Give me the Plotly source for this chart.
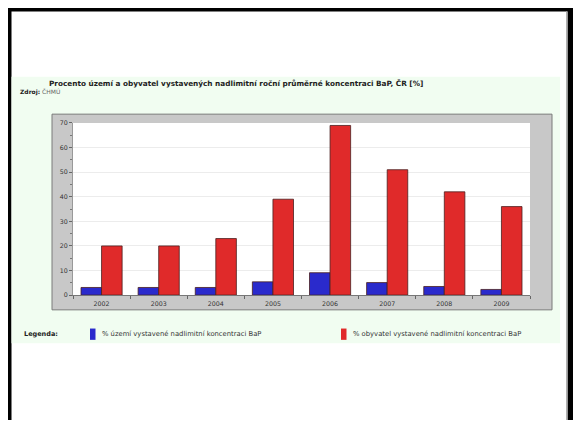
import plotly.graph_objects as go

W, H = 573, 423

years = ["2002", "2003", "2004", "2005", "2006", "2007", "2008", "2009"]
uzemi = [3.1, 3.1, 3.1, 5.4, 9.1, 5.1, 3.5, 2.3]
obyvatel = [20, 20, 23, 39, 69, 51, 42, 36]

title_text = "Procento území a obyvatel vystavených nadlimitní roční průměrné koncentraci BaP, ČR [%]"
legend_labels = ["% území vystavené nadlimitní koncentraci BaP",
                 "% obyvatel vystavené nadlimitní koncentraci BaP"]
colors = ["#2a2acc", "#e02a2a"]

FONT = "DejaVu Sans"


def px(x):
    return x / W


def py(y):
    return 1 - y / H


fig = go.Figure()
for vals, col, name in zip([uzemi, obyvatel], colors, legend_labels):
    fig.add_trace(go.Bar(
        x=years, y=vals, name=name,
        marker=dict(color=col, line=dict(color="#4a2020", width=0.8)),
        showlegend=False,
    ))


def rect(x0, y0, x1, y1, fill, line=None, lw=0):
    fig.add_shape(type="rect", xref="paper", yref="paper",
                  x0=px(x0), x1=px(x1), y0=py(y1), y1=py(y0),
                  fillcolor=fill, line=dict(color=line or fill, width=lw),
                  layer="below")


# page frame
rect(8, 4, 573, 7.5, "#000000")
rect(8, 4, 11.5, 423, "#000000")
rect(567.5, 4, 573, 423, "#000000")
rect(566, 7.5, 567.5, 423, "#b0b0b0")
# light green panel
rect(11.5, 74, 560, 345, "#f1fdf1")
# gray chart box with white plotting area
rect(52, 112, 552, 311, "#c8c8c8", "#7a7a7a", 1)
rect(73, 121, 530, 296, "#ffffff")

ann = []
ann.append(dict(text="<b>" + title_text + "</b>", x=px(47), y=py(81),
                xanchor="left", yanchor="middle", font=dict(size=7.3, color="#222")))
ann.append(dict(text="<b>Zdroj:</b> <span style='color:#666'>ČHMÚ</span>", x=px(18), y=py(89.5),
                xanchor="left", yanchor="middle", font=dict(size=6, color="#222")))
ann.append(dict(text="<b>Legenda:</b>", x=px(22), y=py(336),
                xanchor="left", yanchor="middle", font=dict(size=6.5, color="#222")))
for lx, col, lab in zip([90, 341], colors, legend_labels):
    fig.add_shape(type="rect", xref="paper", yref="paper",
                  x0=px(lx), x1=px(lx + 5.5), y0=py(341.5), y1=py(330),
                  fillcolor=col, line=dict(width=0))
    ann.append(dict(text=lab, x=px(lx + 10), y=py(336), xanchor="left", yanchor="middle",
                    font=dict(size=6.8, color="#333")))
for a in ann:
    a.update(xref="paper", yref="paper", showarrow=False)

fig.update_layout(
    width=W, height=H,
    margin=dict(l=0, r=0, t=0, b=0),
    paper_bgcolor="#ffffff",
    plot_bgcolor="#ffffff",
    font=dict(family=FONT, color="#333"),
    barmode="group",
    bargap=0.28,
    bargroupgap=0,
    annotations=ann,
    xaxis=dict(
        domain=[px(73), px(530)],
        anchor="y",
        tickson="boundaries",
        ticks="outside", ticklen=3, tickcolor="#666",
        ticklabelstandoff=2,
        showline=True, linecolor="#777", linewidth=1,
        tickfont=dict(size=6.3, color="#333"),
        showgrid=False,
    ),
    yaxis=dict(
        domain=[py(296), py(121)],
        range=[0, 70],
        dtick=10,
        ticks="outside", ticklen=3, tickcolor="#666",
        minor=dict(dtick=5, ticks="outside", ticklen=2, tickcolor="#777"),
        showline=True, linecolor="#999", linewidth=1,
        gridcolor="#ececec", gridwidth=1,
        tickfont=dict(size=6.3, color="#333"),
        zeroline=False,
    ),
)

fig.write_html("out.html")
